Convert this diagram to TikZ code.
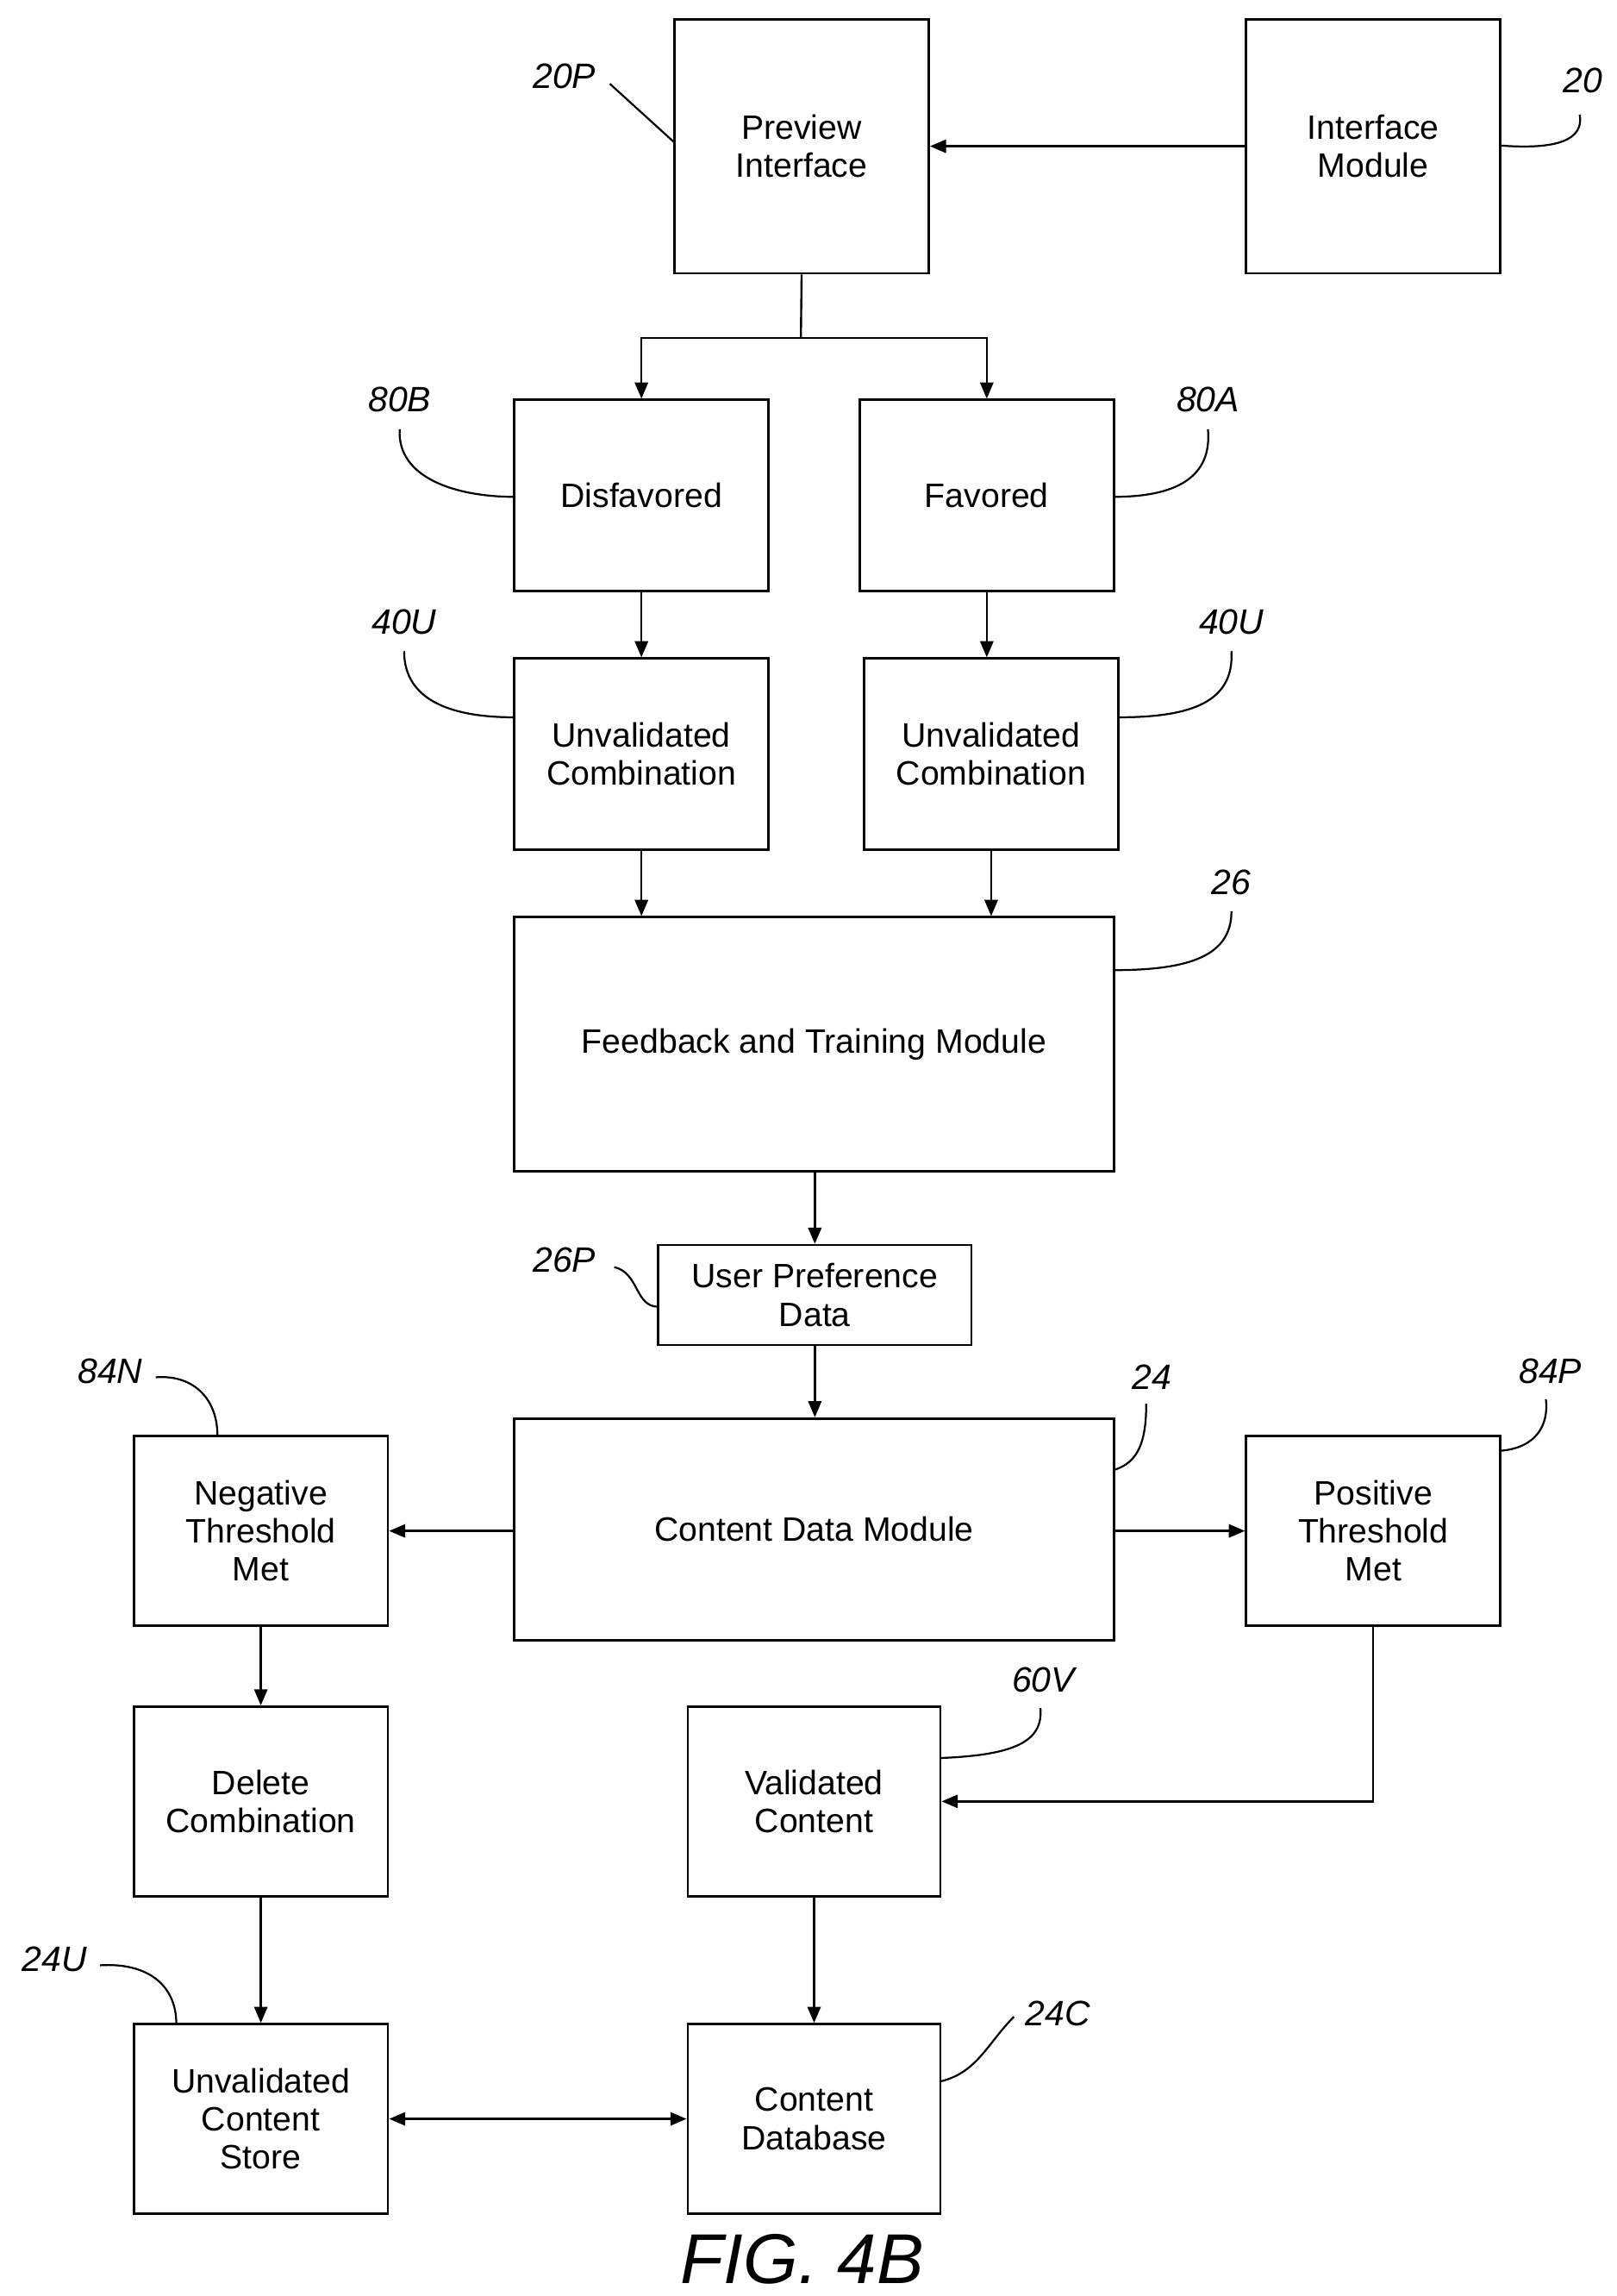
\documentclass[tikz,border=0pt]{standalone}
\usepackage{fontspec}
\setmainfont{Liberation Sans}
\usetikzlibrary{arrows.meta}
\begin{document}
\begin{tikzpicture}[x=1pt,y=-1pt,
 box/.style={draw,line width=1.6pt,align=center,font=\fontsize{23}{26}\selectfont},
 arr/.style={line width=1.4pt,-{Triangle[length=11pt,width=9pt]}},
 lead/.style={line width=1.3pt},
 lab/.style={font=\fontsize{24}{26}\selectfont\itshape}]
\useasboundingbox (0,0) rectangle (1100,1562);
\def\bx#1#2#3#4#5#6{\node[box,minimum width=#4-#2,minimum height=#5-#3] (#1) at ({(#2+#4)/2},{(#3+#5)/2}) {#6};}
\bx{pi}{459}{13}{632}{186}{Preview\\Interface}
\bx{im}{848}{13}{1021}{186}{Interface\\Module}
\bx{dis}{350}{272}{523}{402}{Disfavored}
\bx{fav}{585}{272}{758}{402}{Favored}
\bx{ul}{350}{448}{523}{578}{Unvalidated\\Combination}
\bx{ur}{588}{448}{761}{578}{Unvalidated\\Combination}
\bx{fb}{350}{624}{758}{797}{Feedback and Training Module}
\bx{up}{448}{847}{661}{915}{User Preference\\Data}
\bx{cdm}{350}{965}{758}{1116}{Content Data Module}
\bx{neg}{91}{977}{264}{1106}{Negative\\Threshold\\Met}
\bx{pos}{848}{977}{1021}{1106}{Positive\\Threshold\\Met}
\bx{del}{91}{1161}{264}{1290}{Delete\\Combination}
\bx{val}{468}{1161}{640}{1290}{Validated\\Content}
\bx{ucs}{91}{1377}{264}{1506}{Unvalidated\\Content\\Store}
\bx{db}{468}{1377}{640}{1506}{Content\\Database}
\node[font=\fontsize{48}{50}\selectfont\itshape] (fig) at (546,1537) {FIG. 4B};
% arrows
\draw[arr] (im.west) -- (pi.east);
\coordinate (br) at (545,230);
\draw[line width=1.4pt] (pi.south) -- (br);
\draw[arr] (br) -| (dis.north);
\draw[arr] (br) -| (fav.north);
\draw[arr] (dis) -- (ul);
\draw[arr] (fav) -- (fav|-ur.north);
\draw[arr] (ul.south) -- (ul.south|-fb.north);
\draw[arr] (ur.south) -- (ur.south|-fb.north);
\draw[arr] (fb.south-|up) -- (up.north);
\draw[arr] (up.south) -- (up.south|-cdm.north);
\draw[arr] (cdm.west|-neg.west) -- (neg.east);
\draw[arr] (cdm.east|-pos.west) -- (pos.west);
\draw[arr] (neg) -- (del);
\coordinate (pc) at (pos.south|-val.east);
\draw[arr] (pos.south) -- (pc) -- (val.east);
\draw[arr] (val) -- (db);
\draw[arr] (del) -- (ucs);
\draw[line width=1.4pt,{Triangle[length=11pt,width=9pt]}-{Triangle[length=11pt,width=9pt]}] (ucs) -- (db);
% reference labels
\node[lab] (l20p) at (384,52) {20P};
\draw[lead] (415,57) -- (459,97);
\node[lab] (l20) at (1077,55) {20};
\draw[lead] (1021,99) .. controls (1060,102) and (1078,95) .. (1075,78);
\node[lab] (l80b) at (272,272) {80B};
\draw[lead] (272,292) .. controls (270,325) and (310,338) .. (350,338);
\node[lab] (l80a) at (822,272) {80A};
\draw[lead] (758,338) .. controls (800,338) and (825,325) .. (822,292);
\node[lab] (l40l) at (275,423) {40U};
\draw[lead] (275,443) .. controls (275,478) and (310,488) .. (350,488);
\node[lab] (l40r) at (838,423) {40U};
\draw[lead] (761,488) .. controls (810,488) and (840,478) .. (838,443);
\node[lab] (l26) at (838,600) {26};
\draw[lead] (758,660) .. controls (810,660) and (838,650) .. (838,620);
\node[lab] (l26p) at (384,857) {26P};
\draw[lead] (418,862) .. controls (435,866) and (432,889) .. (448,889);
\node[lab] (l24) at (784,937) {24};
\draw[lead] (758,1000) .. controls (775,995) and (780,980) .. (780,955);
\node[lab] (l84n) at (75,933) {84N};
\draw[lead] (106,937) .. controls (130,935) and (148,950) .. (148,977);
\node[lab] (l84p) at (1055,933) {84P};
\draw[lead] (1021,987) .. controls (1045,985) and (1054,970) .. (1052,952);
\node[lab] (l60v) at (710,1143) {60V};
\draw[lead] (640,1196) .. controls (690,1194) and (710,1185) .. (708,1162);
\node[lab] (l24u) at (37,1333) {24U};
\draw[lead] (68,1337) .. controls (100,1335) and (120,1350) .. (120,1377);
\node[lab] (l24c) at (720,1370) {24C};
\draw[lead] (640,1416) .. controls (665,1410) and (672,1390) .. (690,1372);
\end{tikzpicture}
\end{document}
